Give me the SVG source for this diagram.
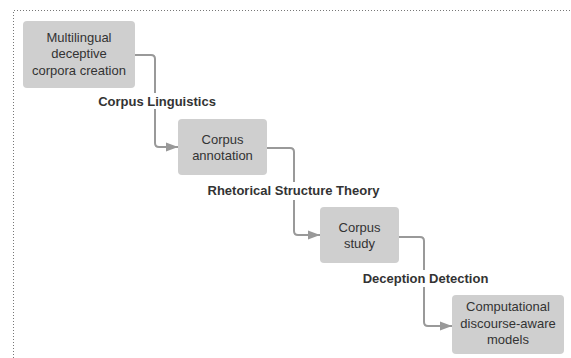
<svg xmlns="http://www.w3.org/2000/svg" width="571" height="358" viewBox="0 0 571 358">
<defs>
<style>
.node rect{fill:#cfcfcf;stroke:none}
.node text{font-family:"Liberation Sans",Arial,sans-serif;font-size:13px;fill:#333;text-anchor:middle}
.conn path{fill:none;stroke:#999;stroke-width:2;stroke-linejoin:round}
.lbl{font-family:"Liberation Sans",Arial,sans-serif;font-size:13px;font-weight:bold;fill:#333;text-anchor:middle}
.lblbg{fill:#fff}
</style>
<marker id="arr" viewBox="0 0 12 10" refX="12" refY="5" markerWidth="12" markerHeight="10" markerUnits="userSpaceOnUse" orient="auto">
<path d="M0,0.5 L12,5 L0,9.5 Z" fill="#999"/>
</marker>
</defs>
<rect x="0" y="0" width="571" height="358" fill="#fff"/>
<path d="M13.5,358 V10.5 H571" fill="none" stroke="#777" stroke-width="1" stroke-dasharray="1,2"/>
<g id="connectors" class="conn">
<path d="M135,55 H151 Q155,55 155,59 V143 Q155,147 159,147 H178" marker-end="url(#arr)"/>
<path d="M267,148 H290 Q294,148 294,152 V231 Q294,235 298,235 H320" marker-end="url(#arr)"/>
<path d="M399,237 H420 Q424,237 424,241 V322 Q424,326 428,326 H452" marker-end="url(#arr)"/>
<rect class="lblbg" x="95" y="93" width="124" height="16"/>
<text class="lbl" x="157" y="105.5">Corpus Linguistics</text>
<rect class="lblbg" x="204" y="182" width="180" height="18"/>
<text class="lbl" x="293.5" y="195">Rhetorical Structure Theory</text>
<rect class="lblbg" x="360" y="270" width="132" height="17"/>
<text class="lbl" x="425.5" y="283">Deception Detection</text>
</g>
<g id="node1" class="node">
<rect x="23" y="21" width="112" height="67" rx="4"/>
<text x="79" y="41.5">Multilingual</text>
<text x="79" y="58">deceptive</text>
<text x="79" y="74.5">corpora creation</text>
</g>
<g id="node2" class="node">
<rect x="178" y="119" width="89" height="56" rx="4"/>
<text x="222.5" y="143.5">Corpus</text>
<text x="222.5" y="159.5">annotation</text>
</g>
<g id="node3" class="node">
<rect x="320" y="207" width="79" height="56" rx="4"/>
<text x="359.5" y="231.5">Corpus</text>
<text x="359.5" y="247.5">study</text>
</g>
<g id="node4" class="node">
<rect x="452" y="295" width="112" height="59" rx="4"/>
<text x="508" y="311">Computational</text>
<text x="508" y="327.5">discourse-aware</text>
<text x="508" y="344">models</text>
</g>
</svg>
